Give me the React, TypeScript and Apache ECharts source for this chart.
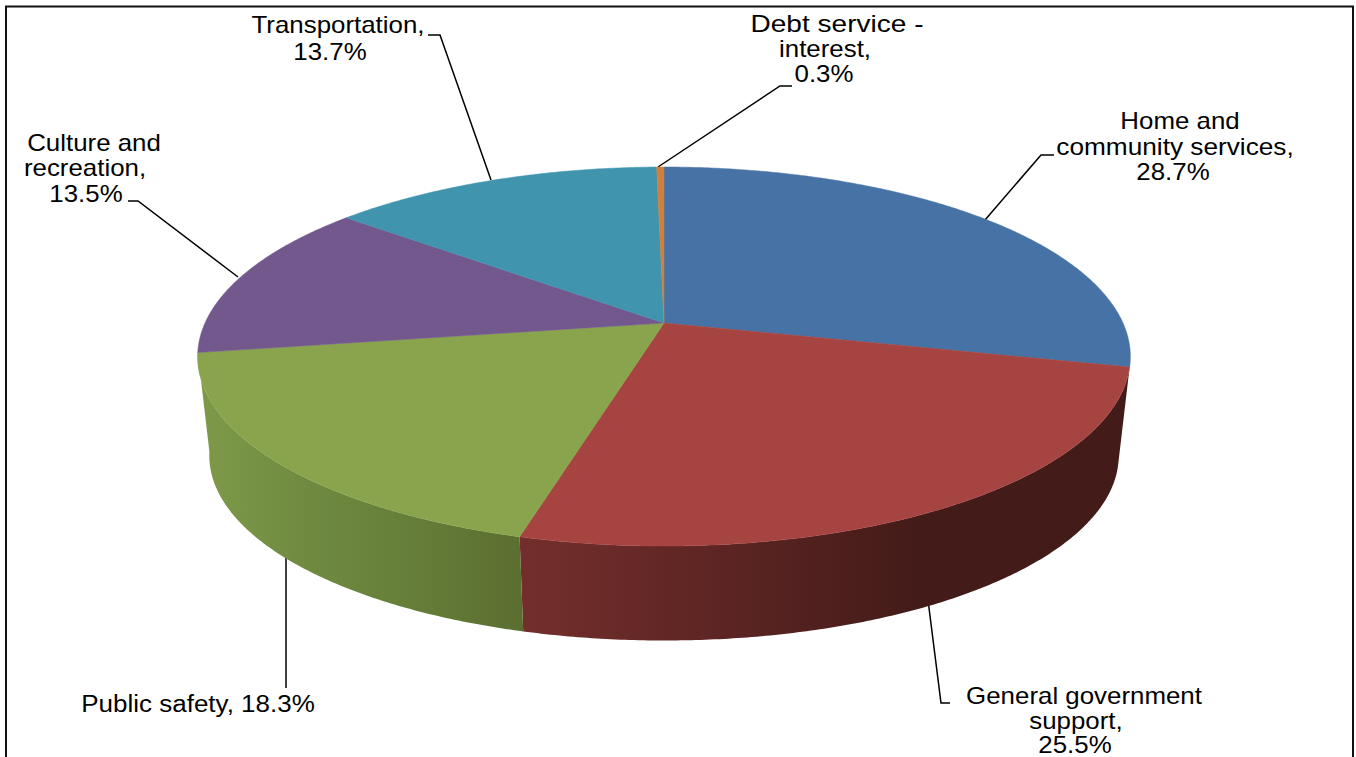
import React, { useEffect, useRef } from "react";
import * as echarts from "echarts";

const categories = [
  "Home and community services",
  "General government support",
  "Public safety",
  "Culture and recreation",
  "Transportation",
  "Debt service - interest",
];
const shares = [28.7, 25.5, 18.3, 13.5, 13.7, 0.3];
const sliceColors = ["#4672a5", "#a64441", "#89a44d", "#73588e", "#4094ad", "#d0803c"];
const wallStops: (string[] | null)[] = [
  null,
  ["#732e2c", "#5c2523", "#431b18", "#431b18"],
  ["#7d9948", "#6f8a40", "#657d38", "#5b6e30"],
  null,
  null,
  null,
];
const wallSpans: ([number, number] | null)[] = [null, [524, 1120], [205, 524], null, null, null];

const labelTexts: string[][] = [
  ["Home and", "community services,", "28.7%"],
  ["General government", "support,", "25.5%"],
  ["Public safety, 18.3%"],
  ["Culture and", "recreation,", "13.5%"],
  ["Transportation,", "13.7%"],
  ["Debt service -", "interest,", "0.3%"],
];
const labelCentres: number[][] = [
  [1180, 1175, 1173],
  [1084, 1076, 1075],
  [198],
  [94, 85, 86],
  [338, 330],
  [837, 825, 824],
];
const labelRows: number[][] = [
  [121, 147, 172],
  [696, 721, 745],
  [704],
  [143, 168, 194],
  [25, 52],
  [24, 49, 74],
];
const labelStretch: number[][] = [
  [1.125, 1.14, 1.125],
  [1.125, 1.125, 1.125],
  [1.13],
  [1.125, 1.125, 1.125],
  [1.125, 1.125],
  [1.22, 1.125, 1.125],
];
const leaders: number[][][] = [
  [[985, 220], [1041, 155], [1054, 155]],
  [[928, 600], [941, 703], [950, 703]],
  [[286, 552], [286, 688]],
  [[238, 277], [138, 201], [128, 201]],
  [[491, 180], [440, 35], [428, 35]],
  [[658, 167], [780, 86], [792, 86]],
];

// Perspective model of the disc
const CX = 664;
const CY = 323;
const RX = 459;
const RY = 183.6;
const K = 0.177;
const DEPTH = 100;
const SHRINK = 0.975;
const FONT = "Liberation Sans, Arial, sans-serif";

const total = shares.reduce((a, b) => a + b, 0);
const starts: number[] = [];
shares.reduce((acc, v, i) => {
  starts[i] = acc;
  return acc + v;
}, 0);

function project(tDeg: number, lower: boolean): number[] {
  const t = (tDeg * Math.PI) / 180;
  const u = Math.sin(t);
  const v = Math.cos(t);
  const w = 1 + K * v;
  const s = lower ? SHRINK : 1;
  return [CX + (s * RX * u) / w, CY + (lower ? DEPTH : 0) - (s * RY * v) / w];
}

function sampleArc(i: number, lower: boolean): number[][] {
  const a0 = (starts[i] / total) * 360;
  const a1 = ((starts[i] + shares[i]) / total) * 360;
  const n = Math.max(2, Math.ceil((a1 - a0) * 2));
  const out: number[][] = [];
  for (let j = 0; j <= n; j++) out.push(project(a0 + ((a1 - a0) * j) / n, lower));
  return out;
}

export default function App() {
  const ref = useRef<HTMLDivElement>(null);
  useEffect(() => {
    const chart = echarts.init(ref.current!, undefined, { renderer: "svg" });
    const data = shares.map((v, i) => ({ name: categories[i], value: [v] }));
    const textEls: any[] = [];
    labelTexts.forEach((lines, i) =>
      lines.forEach((line, j) =>
        textEls.push({
          type: "text",
          x: labelCentres[i][j],
          y: labelRows[i][j],
          scaleX: labelStretch[i][j],
          style: {
            text: line,
            fontSize: 23,
            fontFamily: FONT,
            fill: "#000",
            align: "center",
            verticalAlign: "middle",
            textAlign: "center",
            textVerticalAlign: "middle",
          },
        })
      )
    );
    chart.setOption({
      animation: false,
      backgroundColor: "#fff",
      series: [
        {
          type: "custom",
          coordinateSystem: "none",
          silent: true,
          data,
          renderItem: (params: any) => {
            const i = params.dataIndex;
            const stops = wallStops[i];
            const span = wallSpans[i];
            if (!stops || !span) return { type: "group", children: [] };
            const upper = sampleArc(i, false);
            const lower = sampleArc(i, true).reverse();
            return {
              type: "polygon",
              shape: { points: upper.concat(lower) },
              style: {
                fill: new echarts.graphic.LinearGradient(
                  span[0],
                  0,
                  span[1],
                  0,
                  stops.map((color, k) => ({ offset: k / (stops.length - 1), color })),
                  true
                ),
              },
            };
          },
        },
        {
          type: "custom",
          coordinateSystem: "none",
          silent: true,
          data,
          renderItem: (params: any) => {
            const i = params.dataIndex;
            const pts = [[CX, CY]].concat(sampleArc(i, false));
            return {
              type: "polygon",
              shape: { points: pts },
              style: { fill: sliceColors[i], stroke: sliceColors[i], lineWidth: 0.5 },
            };
          },
        },
      ],
      graphic: {
        elements: [
          {
            type: "rect",
            shape: { x: 6, y: 6.5, width: 1347, height: 800 },
            style: { fill: "none", stroke: "#111", lineWidth: 2 },
          },
          ...leaders.map((points) => ({
            type: "polyline",
            shape: { points },
            style: { fill: "none", stroke: "#000", lineWidth: 1.5 },
          })),
          ...textEls,
        ],
      },
    });
    return () => chart.dispose();
  }, []);
  return (
    <div
      ref={ref}
      style={{ position: "absolute", left: 0, top: 0, width: 1356, height: 757, overflow: "hidden" }}
    />
  );
}
